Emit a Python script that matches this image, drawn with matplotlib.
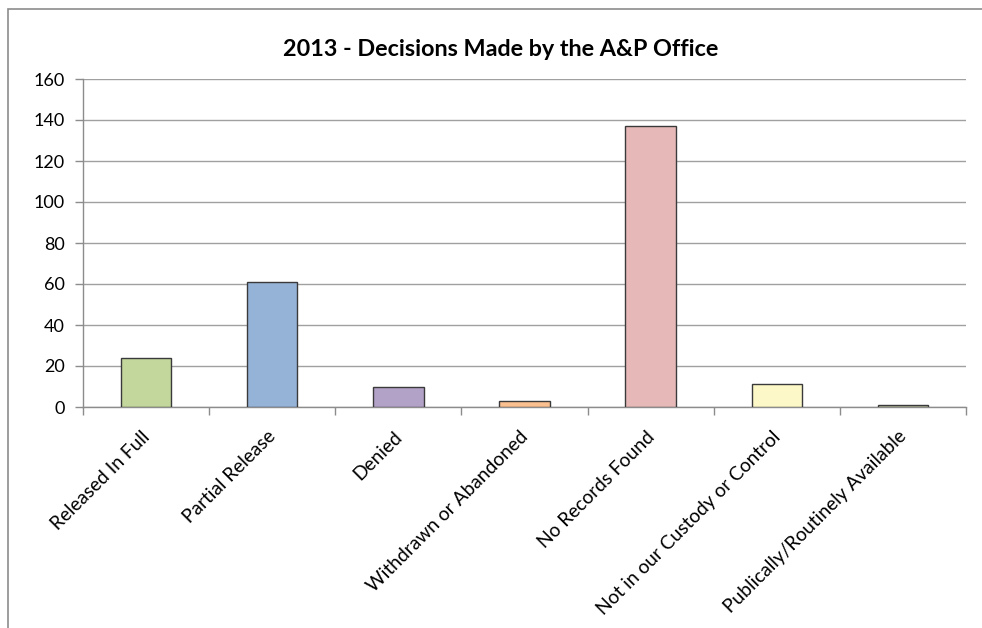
import matplotlib
matplotlib.use("Agg")
import matplotlib.pyplot as plt
from matplotlib.patches import Rectangle
from matplotlib.transforms import ScaledTranslation

categories = ["Released In Full", "Partial Release", "Denied", "Withdrawn or Abandoned",
              "No Records Found", "Not in our Custody or Control", "Publically/Routinely Available"]
values = [24, 61, 10, 3, 137, 11, 1]
colors = ["#C3D69B", "#95B3D7", "#B3A2C7", "#FAC090", "#E6B9B8", "#FCF8C8", "#C4CCA8"]
title = "2013 - Decisions Made by the A&P Office"
yticks = [0, 20, 40, 60, 80, 100, 120, 140, 160]

plt.rcParams['font.family'] = ['Lato', 'DejaVu Sans']

W, H = 982, 628
fig = plt.figure(figsize=(W / 100, H / 100), dpi=100)
fig.patch.set_facecolor("white")

# outer chart border
fig.add_artist(Rectangle((8 / W, -0.1), 1.2, (H - 9) / H + 0.1, transform=fig.transFigure,
                         fill=False, edgecolor="#8C8C8C", linewidth=1.2))

ax = fig.add_axes([83 / W, (H - 407) / H, (966 - 83) / W, (407 - 79) / H])
x = list(range(len(categories)))
ax.bar(x, values, width=0.4, color=colors, edgecolor="#3A3A3A", linewidth=1.0, zorder=3)
ax.set_xlim(-0.5, len(categories) - 0.5)
ax.set_ylim(0, 160)
ax.set_yticks(yticks)
ax.set_yticklabels([str(v) for v in yticks], fontsize=13, color="#000000")
ax.yaxis.grid(True, color="#A0A0A0", linewidth=1.0, zorder=0)
ax.set_axisbelow(True)

# x ticks at category boundaries
ax.set_xticks([i - 0.5 for i in range(len(categories) + 1)], minor=False)
ax.set_xticklabels([])
ax.set_xticks(x, minor=True)
ax.set_xticklabels(categories, minor=True, rotation=45, ha="right", va="top",
                   rotation_mode="anchor", fontsize=13.8)
ax.tick_params(axis="x", which="minor", length=0, pad=15)
ax.tick_params(axis="x", which="major", length=6, color="#8C8C8C", width=1)
ax.tick_params(axis="y", length=6, color="#8C8C8C", width=1, pad=7)
shift = ScaledTranslation(-5 / 100, 0, fig.dpi_scale_trans)
for lbl in ax.get_xticklabels(minor=True):
    lbl.set_transform(lbl.get_transform() + shift)

for s in ["top", "right"]:
    ax.spines[s].set_visible(False)
for s in ["left", "bottom"]:
    ax.spines[s].set_color("#8C8C8C")
    ax.spines[s].set_linewidth(1.0)

fig.text(501 / W, (H - 50) / H, title, ha="center", va="center", fontsize=16.8, fontweight="bold")

fig.savefig("out.png", dpi=100)
